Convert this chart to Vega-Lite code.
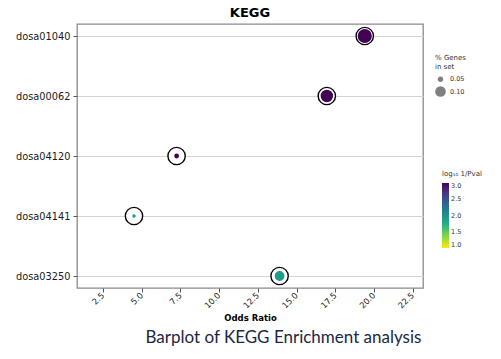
{
  "$schema": "https://vega.github.io/schema/vega-lite/v6.json",
  "background": "white",
  "padding": {"left": 14, "top": 6, "right": 5, "bottom": 5},
  "title": {
    "text": "Barplot of KEGG Enrichment analysis",
    "orient": "bottom",
    "anchor": "middle",
    "font": "Lato",
    "fontSize": 17,
    "fontWeight": "normal",
    "color": "#1a2744",
    "offset": 7,
    "dx": 35
  },
  "vconcat": [
    {
      "width": 346,
      "height": 264,
      "title": {"text": "KEGG", "font": "DejaVu Sans", "fontSize": 13, "fontWeight": "bold", "color": "#000000", "offset": 4},
      "data": {
        "values": [
          {"term": "dosa01040", "odds": 19.4, "genes": 0.133, "logp": 3.0},
          {"term": "dosa00062", "odds": 16.95, "genes": 0.117, "logp": 3.0},
          {"term": "dosa04120", "odds": 7.25, "genes": 0.045, "logp": 3.0},
          {"term": "dosa04141", "odds": 4.5, "genes": 0.033, "logp": 1.9},
          {"term": "dosa03250", "odds": 13.9, "genes": 0.092, "logp": 1.9}
        ]
      },
      "encoding": {
        "x": {
          "field": "odds", "type": "quantitative",
          "scale": {"domain": [0.82, 23.16], "nice": false, "zero": false},
          "axis": {
            "title": "Odds Ratio",
            "values": [2.5, 5, 7.5, 10, 12.5, 15, 17.5, 20, 22.5],
            "format": ".1f",
            "labelAngle": -45,
            "labelAlign": "right",
            "labelBaseline": "middle",
            "grid": false
          }
        },
        "y": {
          "field": "term", "type": "nominal",
          "sort": ["dosa01040", "dosa00062", "dosa04120", "dosa04141", "dosa03250"],
          "scale": {"type": "point", "padding": 0.2},
          "axis": {"title": null, "grid": true}
        }
      },
      "layer": [
        {
          "mark": {"type": "point", "shape": "circle", "filled": true, "fill": "white", "stroke": "black", "strokeWidth": 1.4, "size": 300, "opacity": 1}
        },
        {
          "mark": {"type": "point", "shape": "circle", "filled": true, "strokeWidth": 0, "opacity": 1},
          "encoding": {
            "size": {
              "field": "genes", "type": "quantitative",
              "scale": {"type": "pow", "exponent": 2, "domain": [0, 0.15], "range": [0, 254]},
              "legend": {
                "title": ["% Genes", "in set"],
                "values": [0.05, 0.1],
                "format": ".2f",
                "orient": "none",
                "legendX": 358,
                "legendY": 30,
                "symbolFillColor": "#808080",
                "symbolStrokeColor": "#808080",
                "symbolStrokeWidth": 0,
                "symbolOpacity": 1
              }
            },
            "color": {
              "field": "logp", "type": "quantitative",
              "scale": {"scheme": "viridis", "reverse": true, "domain": [1, 3], "clamp": true},
              "legend": {
                "title": "log₁₀ 1/Pval",
                "orient": "none",
                "legendX": 365,
                "legendY": 146,
                "direction": "vertical",
                "gradientLength": 65,
                "gradientThickness": 7,
                "values": [1, 1.5, 2, 2.5, 3],
                "format": ".1f"
              }
            }
          }
        }
      ]
    }
  ],
  "config": {
    "font": "DejaVu Sans",
    "view": {"stroke": "#8a8a8a", "strokeWidth": 1.3},
    "axis": {
      "labelFont": "DejaVu Sans",
      "labelColor": "#1a1a1a",
      "tickColor": "#555555",
      "tickSize": 4,
      "domain": false,
      "gridColor": "#d4d4d4",
      "gridWidth": 1,
      "titleFont": "DejaVu Sans",
      "titleFontWeight": "bold",
      "titleFontSize": 8.5,
      "titleColor": "#000000"
    },
    "axisY": {"labelFontSize": 9.8, "labelPadding": 3},
    "axisX": {"labelFontSize": 8.3, "labelPadding": 2, "titlePadding": 4},
    "legend": {
      "labelFont": "DejaVu Sans",
      "labelFontSize": 6.5,
      "labelColor": "#333333",
      "titleFont": "DejaVu Sans",
      "titleFontSize": 7,
      "titleFontWeight": "normal",
      "titleColor": "#333333",
      "rowPadding": 3,
      "titlePadding": 6
    }
  }
}
